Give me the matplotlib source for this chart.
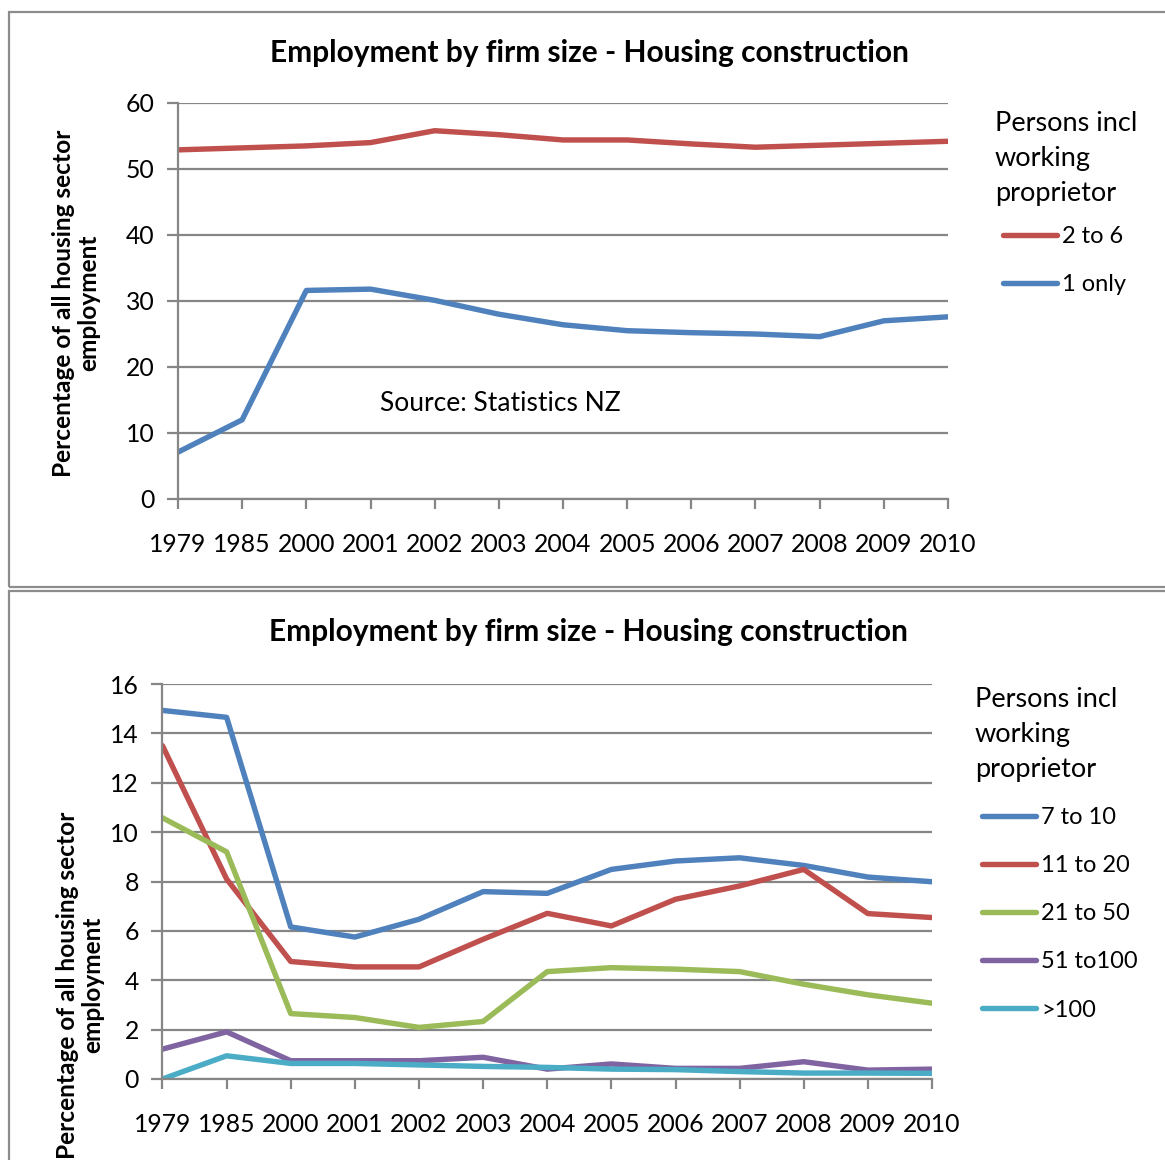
import matplotlib
matplotlib.use("Agg")
import matplotlib.pyplot as plt
from matplotlib.patches import Rectangle

plt.rcParams['font.family'] = ['Lato', 'DejaVu Sans']

years = ["1979", "1985", "2000", "2001", "2002", "2003", "2004", "2005",
         "2006", "2007", "2008", "2009", "2010"]

# Top chart
top_labels = ["2 to 6", "1 only"]
s_2to6 = [52.9, 53.2, 53.5, 54.0, 55.8, 55.2, 54.4, 54.4, 53.8, 53.3, 53.6, 53.9, 54.2]
s_1only = [7.1, 12.0, 31.6, 31.8, 30.1, 28.0, 26.4, 25.5, 25.2, 25.0, 24.6, 27.0, 27.6]

# Bottom chart
bot_labels = ["7 to 10", "11 to 20", "21 to 50", "51 to100", ">100"]
s_7to10 = [14.93, 14.65, 6.16, 5.75, 6.47, 7.59, 7.52, 8.49, 8.83, 8.96, 8.65, 8.18, 7.99]
s_11to20 = [13.5, 8.1, 4.76, 4.54, 4.54, 5.66, 6.71, 6.20, 7.28, 7.82, 8.49, 6.70, 6.54]
s_21to50 = [10.58, 9.20, 2.65, 2.49, 2.09, 2.33, 4.35, 4.51, 4.45, 4.35, 3.84, 3.41, 3.07]
s_51to100 = [1.21, 1.91, 0.74, 0.74, 0.74, 0.88, 0.40, 0.61, 0.43, 0.43, 0.70, 0.36, 0.40]
s_gt100 = [0.0, 0.94, 0.63, 0.63, 0.57, 0.51, 0.47, 0.40, 0.38, 0.30, 0.24, 0.24, 0.23]

TITLE = "Employment by firm size - Housing construction"
YLABEL = "Percentage of all housing sector\nemployment"
LEGTITLE = "Persons incl\nworking\nproprietor"

BLUE = "#4F81BD"
RED = "#C0504D"
GREEN = "#9BBB59"
PURPLE = "#8064A2"
CYAN = "#4BACC6"
GRID = "#868686"

W, H = 1165, 1160
fig = plt.figure(figsize=(W / 100, H / 100), dpi=100)


def fx(px):
    return px / W


def fy(py):
    return 1 - py / H


# panel borders
fig.patches.append(Rectangle((fx(9), fy(587)), fx(1170) - fx(9), fy(12) - fy(587),
                             transform=fig.transFigure, fill=False,
                             edgecolor="#8c8c8c", linewidth=1.6, clip_on=False))
fig.patches.append(Rectangle((fx(9), fy(1175)), fx(1170) - fx(9), fy(591) - fy(1175),
                             transform=fig.transFigure, fill=False,
                             edgecolor="#8c8c8c", linewidth=1.6, clip_on=False))

x = list(range(len(years)))
LW = 3.9
TICKFS = 17.8


def style_axes(ax, ymax, ystep):
    ax.set_xlim(0, len(years) - 1)
    ax.set_ylim(0, ymax)
    ax.set_yticks(range(0, ymax + 1, ystep))
    ax.set_xticks(x)
    ax.set_xticklabels(years)
    for s in ["top", "right"]:
        ax.spines[s].set_visible(False)
    for s in ["left", "bottom"]:
        ax.spines[s].set_color(GRID)
        ax.spines[s].set_linewidth(1.6)
    ax.grid(axis="y", color=GRID, linewidth=1.6)
    ax.set_axisbelow(True)
    ax.tick_params(axis="x", length=7, width=1.6, color=GRID, pad=17.5,
                   labelsize=TICKFS, labelcolor="black")
    ax.tick_params(axis="y", length=8, width=1.6, color=GRID, pad=9,
                   labelsize=TICKFS, labelcolor="black")


def add_legend(ax, title_x, title_y, handle_x, first_y):
    fig.text(fx(title_x), fy(title_y), LEGTITLE, ha="left", va="top",
             fontsize=19.5, linespacing=1.5)
    leg = ax.legend(frameon=False, loc="upper left",
                    bbox_to_anchor=(fx(handle_x), fy(first_y - 12)),
                    bbox_transform=fig.transFigure, fontsize=17,
                    handlelength=2.3, handletextpad=0.2, labelspacing=1.15,
                    borderpad=0, borderaxespad=0)
    for ln in leg.get_lines():
        ln.set_linewidth(LW)
        ln.set_solid_capstyle("round")
    return leg


# ---------- top chart ----------
ax1 = fig.add_axes([fx(178), fy(499), fx(948) - fx(178), fy(103) - fy(499)])
ax1.plot(x, s_2to6, color=RED, lw=LW, label=top_labels[0], solid_capstyle="round")
ax1.plot(x, s_1only, color=BLUE, lw=LW, label=top_labels[1], solid_capstyle="round")
style_axes(ax1, 60, 10)
ax1.text(0.262, 0.24, "Source: Statistics NZ", transform=ax1.transAxes,
         fontsize=19, va="center", ha="left")
fig.text(fx(76), fy(303), YLABEL, rotation=90, ha="center", va="center",
         fontsize=17.6, fontweight="bold", linespacing=1.1, multialignment="center")
fig.text(fx(589), fy(53), TITLE, ha="center", va="center",
         fontsize=21.5, fontweight="bold")
add_legend(ax1, 995, 111, 1003, 238)

# ---------- bottom chart ----------
ax2 = fig.add_axes([fx(162.5), fy(1079), fx(932) - fx(162.5), fy(684) - fy(1079)])
series = [s_7to10, s_11to20, s_21to50, s_51to100, s_gt100]
colors = [BLUE, RED, GREEN, PURPLE, CYAN]
for s, c, lab in zip(series, colors, bot_labels):
    ax2.plot(x, s, color=c, lw=LW, label=lab, solid_capstyle="round")
style_axes(ax2, 16, 2)
fig.text(fx(588), fy(632), TITLE, ha="center", va="center",
         fontsize=21.5, fontweight="bold")
fig.text(fx(80), fy(985), YLABEL, rotation=90, ha="center", va="center",
         fontsize=17.6, fontweight="bold", linespacing=1.1, multialignment="center")
add_legend(ax2, 975, 687, 982, 819)

fig.savefig("out.png", dpi=100)
